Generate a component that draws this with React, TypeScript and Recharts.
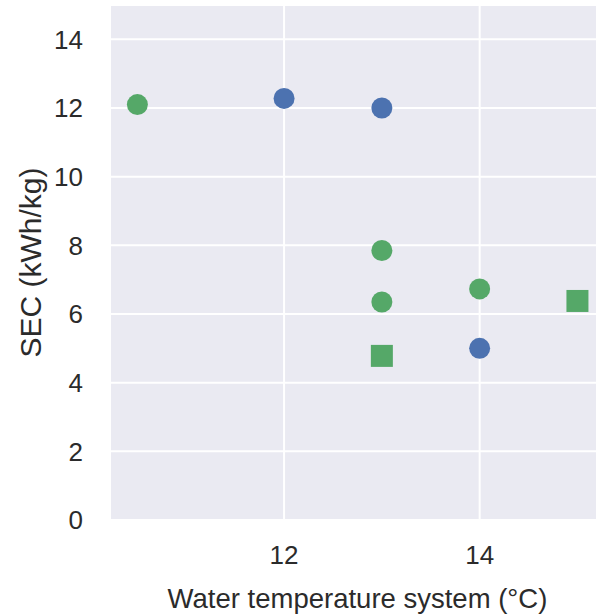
import { ScatterChart, Scatter, XAxis, YAxis, CartesianGrid } from "recharts";

const blueCircles = [
    { x: 12, y: 12.28 },
    { x: 13, y: 12.0 },
    { x: 14, y: 5.0 },
];

const greenCircles = [
    { x: 10.5, y: 12.1 },
    { x: 13, y: 7.85 },
    { x: 13, y: 6.35 },
    { x: 14, y: 6.73 },
];

const greenSquares = [
    { x: 13, y: 4.78 },
    { x: 15, y: 6.38 },
];

const xTicks = [12, 14];
const yTicks = [0, 2, 4, 6, 8, 10, 12, 14];

const BLUE = "#4C72B0";
const GREEN = "#55A868";
const TEXT = "#2b2b2b";
const FONT = "'Liberation Sans', Arial, sans-serif";

const dot = (color: string) => (props: any) =>
    <circle cx={props.cx} cy={props.cy} r={10.5} fill={color} />;

const square = (color: string) => (props: any) =>
    <rect x={props.cx - 11} y={props.cy - 11} width={22} height={22} fill={color} />;

export default function App() {
    return (
        <div style={{ position: "absolute", left: 0, top: 0, background: "#fff" }}>
            <ScatterChart
                width={597}
                height={616}
                margin={{ top: 5, right: 0, bottom: 0, left: 0 }}
                style={{ fontFamily: FONT }}
            >
                <CartesianGrid fill="#EAEAF2" stroke="#fff" strokeWidth={2} />
                <XAxis
                    type="number"
                    dataKey="x"
                    domain={[10.22, 15.2]}
                    ticks={xTicks}
                    height={96}
                    axisLine={false}
                    tickLine={false}
                    tickSize={0}
                    tickMargin={26}
                    tick={{ fill: TEXT, fontSize: 26 }}
                    allowDataOverflow
                    label={{
                        value: "Water temperature system (°C)",
                        position: "insideBottom",
                        offset: 8,
                        dx: 4,
                        fill: TEXT,
                        fontSize: 27.5,
                    }}
                />
                <YAxis
                    type="number"
                    dataKey="y"
                    domain={[0, 15]}
                    ticks={yTicks}
                    width={110}
                    axisLine={false}
                    tickLine={false}
                    tickSize={0}
                    tickMargin={27}
                    tick={{ fill: TEXT, fontSize: 26 }}
                    allowDataOverflow
                    label={{
                        value: "SEC (kWh/kg)",
                        angle: -90,
                        position: "insideLeft",
                        offset: 30,
                        fill: TEXT,
                        fontSize: 30,
                        style: { textAnchor: "middle" },
                    }}
                />
                <Scatter data={blueCircles} shape={dot(BLUE)} isAnimationActive={false} />
                <Scatter data={greenCircles} shape={dot(GREEN)} isAnimationActive={false} />
                <Scatter data={greenSquares} shape={square(GREEN)} isAnimationActive={false} />
            </ScatterChart>
        </div>
    );
}
